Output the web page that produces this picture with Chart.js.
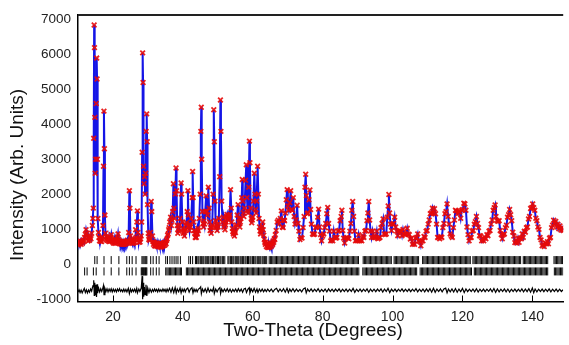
<!DOCTYPE html>
<html>
<head>
<meta charset="utf-8">
<script src="https://cdn.jsdelivr.net/npm/chart.js@4.4.1/dist/chart.umd.min.js"></script>
<style>
html,body{margin:0;padding:0;background:#fff;}
canvas{display:block;}
</style>
</head>
<body>
<canvas id="c" width="569" height="345"></canvas>
<script>
// ---- axis ticks ----
const X_TICKS = [20, 40, 60, 80, 100, 120, 140];
const Y_TICKS = [-1000, 0, 1000, 2000, 3000, 4000, 5000, 6000, 7000];

// ---- observed / calculated profile [2theta, intensity] ----
const profile = [
[10.1,540],[10.3,640],[10.5,580],[10.7,650],[10.9,560],[11.1,640],[11.3,600],[11.5,690],[11.7,640],[11.9,760],[12.1,850],[12.3,980],[12.5,880],[12.7,800],[12.9,660],[13.1,760],[13.3,680],[13.5,760],[13.7,720],[13.9,880],[14.1,1100],[14.25,1300],[14.38,1600],
[14.5,3600],[14.62,6850],[14.72,6200],[14.82,4200],[14.92,2600],[15.05,3000],[15.2,4600],[15.35,5900],[15.45,5300],[15.55,3000],[15.7,1300],[15.85,900],[16.0,760],[16.15,660],[16.3,740],[16.45,650],[16.6,720],[16.75,640],[16.9,760],
[17.15,1100],[17.3,2800],[17.42,4380],[17.55,3300],[17.7,1400],[17.85,880],[18.0,700],[18.15,780],[18.3,680],[18.45,760],[18.6,660],[18.75,740],[18.9,640],[19.05,720],[19.2,650],[19.35,760],[19.5,840],[19.65,700],[19.8,640],[19.95,700],
[20.1,600],[20.25,680],[20.4,600],[20.55,660],[20.7,590],[20.85,670],[21.0,610],[21.15,690],[21.3,760],[21.45,860],[21.6,700],[21.75,640],[21.9,580],[22.05,660],[22.2,580],[22.35,640],[22.5,560],[22.65,620],[22.8,560],[22.95,630],[23.1,560],[23.25,620],[23.4,570],[23.55,640],[23.7,580],[23.85,650],[24.0,600],[24.15,680],[24.3,640],
[24.5,900],[24.7,2100],[24.85,1600],[25.0,800],[25.15,640],[25.3,600],[25.45,680],[25.6,590],[25.75,660],[25.9,600],[26.05,680],[26.2,620],[26.35,720],[26.5,980],[26.65,760],[26.85,1200],[27.0,1520],[27.15,900],[27.3,700],[27.45,620],[27.6,690],[27.75,630],[27.9,720],[28.05,800],
[28.2,1200],[28.35,3200],[28.5,6050],[28.62,5200],[28.75,2800],[28.9,2300],[29.05,2500],[29.2,2000],[29.35,2600],[29.5,3800],[29.65,4300],[29.78,3500],[29.9,1700],[30.1,880],[30.25,700],[30.4,760],[30.55,680],[30.7,900],[30.95,1790],[31.1,1500],[31.3,800],[31.45,640],
[31.6,560],[31.75,620],[31.9,520],[32.05,600],[32.2,510],[32.35,590],[32.5,520],[32.65,600],[32.8,500],[32.95,580],[33.1,490],[33.25,570],[33.4,500],[33.55,580],[33.7,480],[33.85,560],[34.0,500],[34.15,580],[34.3,510],[34.45,600],[34.6,530],[34.75,610],[34.9,540],[35.05,620],[35.2,580],[35.35,680],[35.5,720],[35.65,820],
[35.8,860],[35.95,980],[36.1,1040],[36.25,1200],[36.5,1340],[36.7,1100],[36.9,1250],[37.1,1500],[37.3,2300],[37.45,1600],[37.65,1300],[37.85,2000],[38.05,2750],[38.2,2100],[38.4,1100],[38.55,880],[38.7,1000],[38.9,940],[39.05,1120],[39.2,1300],[39.5,2320],[39.65,2000],[39.85,1200],
[40.0,1000],[40.15,880],[40.3,920],[40.45,800],[40.6,960],[40.75,1000],[40.9,1120],[41.05,1180],[41.25,1500],[41.45,2100],[41.6,1400],[41.75,1080],[41.9,960],[42.05,1140],[42.2,1060],[42.4,1300],[42.65,1900],[42.8,2650],[42.95,1900],[43.1,1200],[43.25,960],[43.4,880],[43.55,760],[43.7,860],[43.85,760],[44.0,900],[44.15,860],[44.3,1020],[44.45,960],[44.7,1300],[44.95,2000],[45.15,3800],[45.27,4490],[45.4,3000],[45.6,1500],[45.75,1160],[45.9,1060],
[46.05,1240],[46.2,1140],[46.4,1500],[46.65,1950],[46.85,1500],[47.05,1400],[47.3,2200],[47.5,1600],[47.65,1200],[47.8,960],[47.95,1040],[48.1,880],[48.25,1060],[48.4,1100],[48.65,2000],[48.85,4420],[49.0,3500],[49.2,1800],[49.35,1240],[49.5,1040],[49.65,1100],[49.8,960],[49.95,1140],[50.1,1060],[50.3,1300],[50.55,2500],[50.75,4700],[50.9,3800],[51.1,1800],[51.35,1200],[51.6,1340],[51.75,1060],[51.9,1160],
[52.05,980],[52.2,1120],[52.35,1200],[52.5,1360],[52.65,1420],[52.8,1300],[52.95,1380],[53.1,1250],[53.25,1340],[53.4,1400],[53.65,2130],[53.85,1600],[54.0,1200],[54.15,1020],[54.3,920],[54.45,860],[54.6,900],[54.75,800],[54.9,940],[55.05,900],[55.2,1060],[55.35,1120],[55.55,1400],[55.8,1700],[56.0,1300],[56.15,1160],[56.3,1060],[56.45,1200],[56.6,1300],[56.85,1900],[57.0,2420],[57.15,1800],[57.3,1460],[57.45,1360],[57.65,1600],[57.95,2400],[58.15,2840],[58.35,1900],
[58.5,1520],[58.65,1460],[58.85,2200],[59.05,3520],[59.2,2900],[59.4,1600],[59.55,1300],[59.7,1180],[59.85,1260],[60.0,1340],[60.2,1800],[60.45,2600],[60.65,2000],[60.8,1560],[60.95,1460],[61.1,1800],[61.4,2800],[61.6,2000],[61.8,1300],[61.95,1060],[62.1,940],[62.25,860],[62.4,940],[62.55,1000],[62.7,1080],[62.85,1200],[63.0,980],[63.15,820],[63.3,700],
[63.45,620],[63.6,560],[63.75,620],[63.9,500],[64.05,580],[64.2,480],[64.35,560],[64.5,470],[64.65,550],[64.8,480],[64.95,560],[65.1,500],[65.25,590],[65.4,520],[65.55,600],[65.7,560],[65.85,660],[66.0,620],[66.15,720],[66.3,700],[66.45,840],
[66.7,960],[67.0,1200],[67.3,1250],[67.6,1150],[67.9,1300],[68.2,1520],[68.45,1060],[68.7,1040],[68.9,1260],[69.1,1240],[69.35,1460],[69.6,1840],[69.85,2130],[70.05,1660],[70.3,1540],[70.6,1760],[70.85,2100],[71.1,1560],[71.35,1540],[71.6,1900],[71.85,1360],[72.1,1140],[72.4,1260],[72.7,1680],[72.95,1160],
[73.2,940],[73.5,700],[73.8,760],[74.1,740],[74.4,1040],[74.7,1360],[74.95,2200],[75.15,2570],[75.35,1960],[75.6,1440],[75.85,1460],[76.1,1840],[76.35,2120],[76.55,1560],[76.8,1140],[77.1,860],[77.4,840],[77.7,860],[78.0,1040],[78.3,1060],[78.6,1340],[78.85,1570],
[79.1,1060],[79.4,840],[79.7,660],[80.0,800],[80.3,860],[80.6,1040],[80.9,1160],[81.2,1440],[81.45,1620],[81.7,1160],[82.0,940],[82.3,660],[82.6,700],[82.9,660],[83.2,940],[83.5,760],[83.8,740],[84.1,760],[84.4,940],[84.7,960],[85.0,1240],[85.3,1360],[85.5,1540],[85.75,960],
[86.0,740],[86.3,600],[86.6,740],[86.9,760],[87.2,740],[87.5,720],[87.8,940],[88.1,1160],[88.35,1540],[88.6,1790],[88.85,1360],[89.1,940],[89.4,660],[89.7,680],[90.0,660],[90.3,840],[90.6,660],[90.9,680],[91.2,660],[91.5,800],[91.8,760],[92.1,940],[92.4,960],[92.7,1240],[92.95,1460],[93.2,1790],[93.45,1260],[93.7,940],
[94.0,760],[94.3,940],[94.6,760],[94.9,800],[95.2,760],[95.5,940],[95.8,720],[96.1,740],[96.4,760],[96.7,1040],[97.0,1160],[97.3,1290],[97.6,860],[97.9,840],[98.2,860],[98.5,1340],[98.75,1660],[98.95,1990],[99.15,1460],[99.4,1140],[99.7,960],[100.0,1140],[100.3,1160],[100.6,1340],[100.9,1060],
[101.2,940],[101.5,810],[101.8,940],[102.1,940],[102.4,940],[102.7,810],[103.0,990],[103.3,860],[103.6,840],[103.9,860],[104.2,1020],[104.5,860],[104.8,840],[105.1,710],[105.4,740],[105.7,560],[106.0,600],[106.3,560],[106.6,740],[106.9,760],[107.2,860],[107.5,660],[107.8,640],[108.1,520],[108.4,660],
[108.7,660],[109.0,790],[109.3,760],[109.6,940],[109.9,960],[110.2,1140],[110.5,1260],[110.8,1440],[111.1,1460],[111.4,1600],[111.7,1460],[112.0,1580],[112.3,1440],[112.6,1140],[112.9,760],[113.2,760],[113.5,720],[113.8,780],[114.1,760],[114.4,1040],[114.7,1160],[115.0,1440],[115.3,1500],[115.6,1720],[115.9,1360],
[116.2,1140],[116.5,860],[116.8,800],[117.1,760],[117.4,1040],[117.7,1260],[118.0,1540],[118.3,1520],[118.6,1440],[118.9,1510],[119.2,1490],[119.5,1310],[119.8,1540],[120.1,1560],[120.4,1740],[120.7,1720],[121.0,1540],[121.3,1060],[121.6,840],[121.9,660],[122.2,760],[122.5,760],[122.8,940],[123.1,960],
[123.4,1140],[123.7,1210],[124.0,1360],[124.3,1160],[124.6,1040],[124.9,810],[125.2,800],[125.5,660],[125.8,720],[126.1,660],[126.4,760],[126.7,720],[127.0,840],[127.3,810],[127.6,940],[127.9,960],[128.2,1140],[128.5,1260],[128.8,1540],[129.1,1610],[129.35,1690],[129.6,1360],[129.9,1240],[130.2,1220],
[130.5,1240],[130.8,960],[131.1,840],[131.4,720],[131.7,840],[132.0,860],[132.3,1040],[132.6,1110],[132.9,1340],[133.2,1410],[133.5,1560],[133.8,1410],[134.1,1240],[134.4,910],[134.7,800],[135.0,610],[135.3,660],[135.6,600],[135.9,740],[136.2,620],[136.5,740],[136.8,720],[137.1,860],[137.4,760],
[137.7,940],[138.0,910],[138.3,1040],[138.6,1060],[138.9,1290],[139.2,1360],[139.5,1590],[139.8,1610],[140.1,1720],[140.4,1610],[140.7,1540],[141.0,1310],[141.3,1240],[141.6,1060],[141.9,990],[142.2,760],[142.5,690],[142.8,520],[143.1,560],[143.4,500],[143.7,600],[144.0,580],[144.3,640],[144.6,580],
[144.9,740],[145.2,760],[145.5,1040],[145.8,1110],[146.1,1250],[146.4,1160],[146.7,1220],[147.0,1060],[147.3,1140],[147.6,1010],[147.9,1090],[148.2,970],[148.5,1040],[148.8,960]
];

// ---- difference curve (obs - calc, offset) [2theta, value] ----
const difference = [
[10.0,-810],[10.3,-740],[10.6,-820],[10.9,-750],[11.2,-830],[11.5,-760],[11.8,-700],[12.1,-820],[12.4,-740],[12.7,-830],[13.0,-750],[13.3,-810],[13.6,-720],[13.9,-780],[14.1,-690],[14.3,-620],[14.5,-470],[14.65,-900],[14.8,-540],[14.95,-870],[15.1,-600],[15.3,-950],[15.45,-580],[15.6,-840],[15.9,-690],
[16.2,-800],[16.5,-710],[16.8,-790],[17.0,-730],[17.3,-620],[17.45,-880],[17.7,-700],[18.0,-790],[18.3,-710],[18.6,-800],[18.9,-720],[19.2,-790],[19.5,-710],[19.8,-800],[20.1,-720],[20.4,-790],[20.7,-730],[21.0,-800],[21.3,-720],[21.6,-780],[21.9,-710],[22.2,-790],[22.5,-740],[22.8,-800],[23.1,-720],[23.4,-790],
[23.7,-730],[24.0,-800],[24.4,-700],[24.7,-850],[25.0,-720],[25.3,-800],[25.6,-730],[25.9,-790],[26.2,-720],[26.5,-800],[26.8,-700],[27.0,-830],[27.4,-720],[27.7,-790],[28.1,-690],[28.35,-350],[28.5,-1010],[28.65,-540],[28.8,-940],[29.0,-660],[29.2,-880],[29.45,-600],
[29.7,-920],[29.95,-690],[30.3,-820],[30.6,-720],[31.0,-810],[31.3,-730],[31.6,-790],[31.9,-720],[32.2,-780],[32.5,-730],[32.8,-800],[33.1,-720],[33.4,-790],[33.7,-740],[34.0,-790],[34.3,-720],[34.6,-780],[34.9,-730],[35.2,-800],[35.5,-720],[35.8,-790],[36.2,-700],[36.6,-810],[37.0,-690],
[37.4,-820],[37.8,-680],[38.1,-830],[38.4,-720],[38.8,-800],[39.2,-690],[39.5,-830],[39.8,-720],[40.1,-790],[40.4,-720],[40.7,-800],[41.0,-730],[41.4,-690],[41.8,-810],[42.2,-720],[42.6,-680],[42.9,-830],[43.2,-720],[43.5,-790],[43.8,-730],[44.1,-800],[44.4,-730],
[44.8,-700],[45.1,-660],[45.3,-850],[45.6,-720],[46.0,-800],[46.4,-710],[46.8,-810],[47.2,-690],[47.6,-800],[48.0,-730],[48.4,-790],[48.8,-680],[49.0,-850],[49.4,-720],[49.8,-800],[50.2,-720],[50.6,-680],[50.8,-850],[51.1,-720],[51.5,-800],
[51.9,-720],[52.3,-790],[52.7,-710],[53.1,-800],[53.5,-720],[53.9,-810],[54.3,-730],[54.7,-790],[55.1,-720],[55.5,-800],[55.9,-710],[56.3,-790],[56.7,-720],[57.1,-810],[57.5,-720],[57.9,-700],[58.2,-820],[58.6,-730],[59.0,-680],[59.2,-830],
[59.6,-720],[60.0,-800],[60.4,-700],[60.8,-810],[61.2,-720],[61.5,-820],[61.9,-720],[62.3,-790],[62.7,-720],[63.1,-800],[63.5,-730],[63.9,-790],[64.3,-720],[64.8,-790],[65.3,-720],[65.8,-800],[66.3,-730],[66.8,-700],[67.3,-800],[67.8,-720],
[68.3,-790],[68.8,-710],[69.3,-810],[69.8,-700],[70.2,-820],[70.6,-720],[71.0,-790],[71.5,-710],[72.0,-800],[72.5,-720],[73.0,-790],[73.5,-730],[74.0,-800],[74.5,-720],[75.0,-690],[75.3,-830],[75.7,-720],[76.2,-790],[76.7,-715],[77.2,-795],
[77.7,-725],[78.2,-790],[78.7,-710],[79.2,-800],[79.7,-730],[80.2,-790],[80.7,-720],[81.2,-800],[81.7,-715],[82.2,-790],[82.7,-725],[83.2,-795],[83.7,-720],[84.2,-785],[84.7,-715],[85.2,-800],[85.7,-725],[86.2,-790],[86.7,-720],[87.2,-795],
[87.7,-725],[88.2,-790],[88.7,-700],[89.2,-815],[89.7,-725],[90.2,-790],[90.7,-720],[91.2,-795],[91.7,-725],[92.2,-785],[92.7,-715],[93.2,-810],[93.7,-720],[94.2,-790],[94.7,-725],[95.2,-795],[95.7,-720],[96.2,-785],[96.7,-715],[97.2,-805],
[97.7,-720],[98.2,-790],[98.7,-700],[99.2,-820],[99.7,-725],[100.2,-790],[100.7,-720],[101.2,-795],[101.7,-725],[102.2,-785],[102.7,-715],[103.2,-795],[103.7,-725],[104.2,-790],[104.7,-720],[105.2,-795],[105.7,-725],[106.2,-785],[106.7,-710],[107.2,-800],
[107.7,-725],[108.2,-790],[108.7,-720],[109.2,-800],[109.7,-715],[110.2,-795],[110.7,-710],[111.2,-810],[111.7,-700],[112.2,-815],[112.7,-720],[113.2,-790],[113.7,-715],[114.2,-800],[114.7,-720],[115.2,-695],[115.6,-830],[116.0,-720],[116.5,-800],[117.0,-715],
[117.5,-805],[118.0,-705],[118.5,-810],[119.0,-720],[119.5,-795],[120.0,-700],[120.5,-820],[121.0,-715],[121.5,-795],[122.0,-725],[122.5,-790],[123.0,-720],[123.5,-800],[124.0,-710],[124.5,-805],[125.0,-725],[125.5,-790],[126.0,-720],[126.5,-795],[127.0,-725],
[127.5,-785],[128.0,-715],[128.5,-800],[129.0,-705],[129.5,-815],[130.0,-720],[130.5,-800],[131.0,-725],[131.5,-790],[132.0,-715],[132.5,-800],[133.0,-720],[133.5,-805],[134.0,-725],[134.5,-790],[135.0,-720],[135.5,-795],[136.0,-725],[136.5,-790],[137.0,-715],
[137.5,-800],[138.0,-720],[138.5,-795],[139.0,-710],[139.5,-810],[140.0,-690],[140.4,-825],[140.8,-720],[141.3,-800],[141.8,-725],[142.3,-790],[142.8,-720],[143.3,-795],[143.8,-725],[144.3,-790],[144.8,-715],[145.3,-800],[145.8,-725],[146.3,-790],[146.8,-720],
[147.3,-795],[147.8,-725],[148.3,-790],[148.8,-740]
];

// ---- reflection positions (two phases) ----
const phase1Pos = [
14.8,15.46,17.44,19.5,21.7,23.96,24.7,25.5,26.6,28.3,28.6,28.9,29.2,29.45,29.7,30.8,31.5,32.4,33.2,35.1,35.6,36.3,36.9,37.5,38.06,38.6,39.3,41.7,42.2,42.8,
43.6,43.9,44.3,44.6,45.0,45.3,45.7,46.0,46.4,46.7,47.1,47.4,47.8,48.1,48.5,48.8,49.2,49.5,49.9,50.2,50.6,50.9,51.3,51.6,52.0,
52.9,53.2,53.6,53.9,54.3,54.6,55.0,55.3,55.7,56.0,56.4,56.7,57.1,57.4,57.8,58.1,58.5,58.8,59.2,59.5,59.9,60.2,60.6,60.9,61.3,61.6,62.0,62.3,62.7,63.0,63.4,63.7,64.0,
64.7,65.05,65.4,65.75,66.1,66.45,66.8,67.15,67.5,67.85,68.2,68.55,68.9,69.25,69.6,69.95,70.3,70.65,71.0,71.35,71.7,72.05,72.4,72.75,73.1,73.45,73.8,74.15,74.5,74.85,75.2,75.55,75.9,76.25,76.6,76.95,77.3,77.65,78.0,78.35,78.7,79.05,79.4,79.75,80.1,80.45,80.8,81.15,81.5,81.85,82.2,82.55,82.9,83.25,83.6,83.95,84.3,84.65,85.0,85.35,85.7,86.05,86.4,86.75,87.1,87.45,87.8,88.15,88.5,88.85,89.2,89.55,89.9,90.25,
91.6,91.95,92.3,92.65,93.0,93.35,93.7,94.05,94.4,94.75,95.1,95.45,95.8,96.15,96.5,96.85,97.2,97.55,97.9,98.25,98.6,98.95,99.3,99.65,
100.45,100.8,101.15,101.5,101.85,102.2,102.55,102.9,103.25,103.6,103.95,104.3,104.65,105.0,105.35,105.7,106.05,106.4,106.75,107.1,107.45,
108.6,108.95,109.3,109.65,110.0,110.35,110.7,111.05,111.4,111.75,112.1,112.45,112.8,113.15,113.5,113.85,114.2,114.55,114.9,115.25,115.6,115.95,116.3,116.65,117.0,117.35,117.7,118.05,118.4,118.75,119.1,119.45,119.8,120.15,120.5,120.85,121.2,121.55,121.9,122.25,
123.0,123.35,123.7,124.05,124.4,124.75,125.1,125.45,125.8,126.15,126.5,126.85,127.2,127.55,127.9,128.25,128.6,128.95,129.3,129.65,130.0,130.35,130.7,131.05,131.4,131.75,132.1,132.45,132.8,133.15,133.5,133.85,134.2,134.55,134.9,135.25,135.6,135.95,136.3,136.65,
137.4,137.75,138.1,138.45,138.8,139.15,139.5,139.85,140.2,140.55,140.9,141.25,141.6,141.95,142.3,142.65,143.0,143.35,143.7,144.05,144.4,
146.2,146.55,146.9,147.25,147.6,147.95,148.3,148.65
];
const phase2Pos = [
11.9,12.6,14.4,15.2,17.44,19.5,21.7,23.96,24.7,25.5,26.6,28.1,28.3,28.5,28.7,28.9,29.1,29.3,29.5,29.7,30.8,31.5,32.4,33.2,
35.1,35.45,35.8,36.15,36.5,36.85,37.2,37.55,37.9,38.25,38.6,38.95,39.3,39.6,
41.0,41.35,41.7,42.05,42.4,42.75,43.1,43.45,43.8,44.15,44.5,44.85,45.2,45.55,45.9,46.25,46.6,46.95,47.3,47.65,48.0,48.35,48.7,49.05,49.4,49.75,50.1,50.45,50.8,51.15,51.5,51.85,52.2,52.55,52.9,53.25,53.6,53.95,54.3,54.65,55.0,55.35,55.7,56.05,56.4,56.75,57.1,57.45,57.8,58.15,58.5,58.85,59.2,59.55,59.9,60.25,60.6,60.95,61.3,61.65,62.0,62.35,62.7,63.05,63.4,63.75,64.1,64.45,64.8,65.15,65.5,65.85,66.2,66.55,66.9,67.25,67.6,67.95,68.3,68.65,69.0,69.35,69.7,70.05,70.4,70.75,71.1,71.45,71.8,72.15,72.5,72.85,73.2,73.55,73.9,74.25,74.6,74.95,75.3,75.65,76.0,76.35,76.7,77.05,77.4,77.75,78.1,78.45,78.8,79.15,79.5,79.85,80.2,80.55,80.9,81.25,81.6,81.95,82.3,82.65,83.0,83.35,83.7,84.05,84.4,84.75,85.1,85.45,85.8,86.15,86.5,86.85,87.2,87.55,87.9,88.25,88.6,88.95,89.3,89.65,90.0,90.35,
91.5,91.85,92.2,92.55,92.9,93.25,93.6,93.95,94.3,94.65,95.0,95.35,95.7,96.05,96.4,96.75,97.1,97.45,97.8,98.15,98.5,98.85,99.2,99.55,99.9,100.25,100.6,100.95,101.3,101.65,102.0,102.35,102.7,103.05,103.4,103.75,104.1,104.45,104.8,105.15,105.5,105.85,106.2,106.55,106.9,
107.9,108.25,108.6,108.95,109.3,109.65,110.0,110.35,110.7,111.05,111.4,111.75,112.1,112.45,112.8,113.15,113.5,113.85,114.2,114.55,114.9,115.25,115.6,115.95,116.3,116.65,117.0,117.35,117.7,118.05,118.4,118.75,119.1,119.45,119.8,120.15,120.5,120.85,121.2,121.55,121.9,122.25,122.6,
123.4,123.75,124.1,124.45,124.8,125.15,125.5,125.85,126.2,126.55,126.9,127.25,127.6,127.95,128.3,128.65,129.0,129.35,129.7,130.05,130.4,130.75,131.1,131.45,131.8,132.15,132.5,132.85,133.2,133.55,133.9,134.25,134.6,134.95,135.3,135.65,136.0,136.35,136.7,137.05,137.4,137.75,138.1,138.45,138.8,139.15,139.5,139.85,140.2,140.55,140.9,141.25,141.6,141.95,142.3,142.65,143.0,143.35,143.7,144.05,144.4,
146.3,146.65,147.0,147.35,147.7,148.05,148.4,148.75
];
const PHASE1_LEVEL = 110;
const PHASE2_LEVEL = -215;

Chart.defaults.font.family = '"Liberation Sans", Arial, Helvetica, sans-serif';
Chart.defaults.color = '#222';

const toXY = arr => arr.map(p => ({x: p[0], y: p[1]}));

const framePlugin = {
  id: 'frame',
  afterDraw(chart) {
    const {ctx, chartArea: a, scales: {x}} = chart;
    ctx.save();
    ctx.strokeStyle = '#000';
    ctx.lineWidth = 1;
    X_TICKS.forEach(v => {
      const px = Math.round(x.getPixelForValue(v)) + 0.5;
      ctx.beginPath(); ctx.moveTo(px, a.bottom); ctx.lineTo(px, a.bottom - 6); ctx.stroke();
    });
    ctx.lineWidth = 2;
    ctx.strokeStyle = '#222';
    ctx.beginPath(); ctx.moveTo(a.left, a.top); ctx.lineTo(a.right, a.top); ctx.stroke();
    ctx.fillStyle = '#111';
    ctx.font = '19px "Liberation Sans", Arial, sans-serif';
    ctx.textAlign = 'center';
    ctx.textBaseline = 'alphabetic';
    ctx.fillText('Two-Theta (Degrees)', 313, 336);
    ctx.translate(23, 175);
    ctx.rotate(-Math.PI / 2);
    ctx.fillText('Intensity (Arb. Units)', 0, 0);
    ctx.restore();
  }
};

new Chart(document.getElementById('c'), {
  type: 'scatter',
  data: {
    datasets: [
      { label: 'Observed', data: toXY(profile), showLine: false, pointStyle: 'crossRot', pointRadius: 3.3, pointBorderWidth: 1.8, borderColor: 'rgba(230,10,10,0.9)', backgroundColor: 'rgba(230,10,10,0.9)' },
      { label: 'Calculated', data: toXY(profile), showLine: true, borderColor: '#1515e6', borderWidth: 2, pointRadius: 0 },
      { label: 'Difference', data: toXY(difference), showLine: true, borderColor: '#000', borderWidth: 1.2, pointRadius: 0 },
      { label: 'Phase 1', data: phase1Pos.map(v => ({x: v, y: PHASE1_LEVEL})), showLine: false, pointStyle: 'line', rotation: 90, pointRadius: 4, borderColor: '#000', pointBorderWidth: 1 },
      { label: 'Phase 2', data: phase2Pos.map(v => ({x: v, y: PHASE2_LEVEL})), showLine: false, pointStyle: 'line', rotation: 90, pointRadius: 4, borderColor: '#000', pointBorderWidth: 1 }
    ]
  },
  options: {
    responsive: false,
    animation: false,
    devicePixelRatio: 1,
    layout: { padding: { top: 8, right: 0, left: 0, bottom: 0 } },
    plugins: { legend: { display: false }, tooltip: { enabled: false } },
    scales: {
      x: {
        type: 'linear', min: 10, max: 148.83,
        afterBuildTicks: s => { s.ticks = X_TICKS.map(v => ({value: v})); },
        afterFit: s => { s.height = 43.5; },
        grid: { display: false, drawTicks: false },
        border: { display: true, color: '#000', width: 1.5 },
        ticks: { padding: 7, font: { size: 14 }, color: '#222', callback: v => String(v) }
      },
      y: {
        type: 'linear', min: -1077, max: 7132,
        afterBuildTicks: s => { s.ticks = Y_TICKS.map(v => ({value: v})); },
        afterFit: s => { s.width = 78; },
        grid: { display: false, drawTicks: false },
        border: { display: true, color: '#000', width: 1.5 },
        ticks: { padding: 7, font: { size: 13.5 }, color: '#222', callback: v => String(v) }
      }
    }
  },
  plugins: [framePlugin]
});
</script>
</body>
</html>
